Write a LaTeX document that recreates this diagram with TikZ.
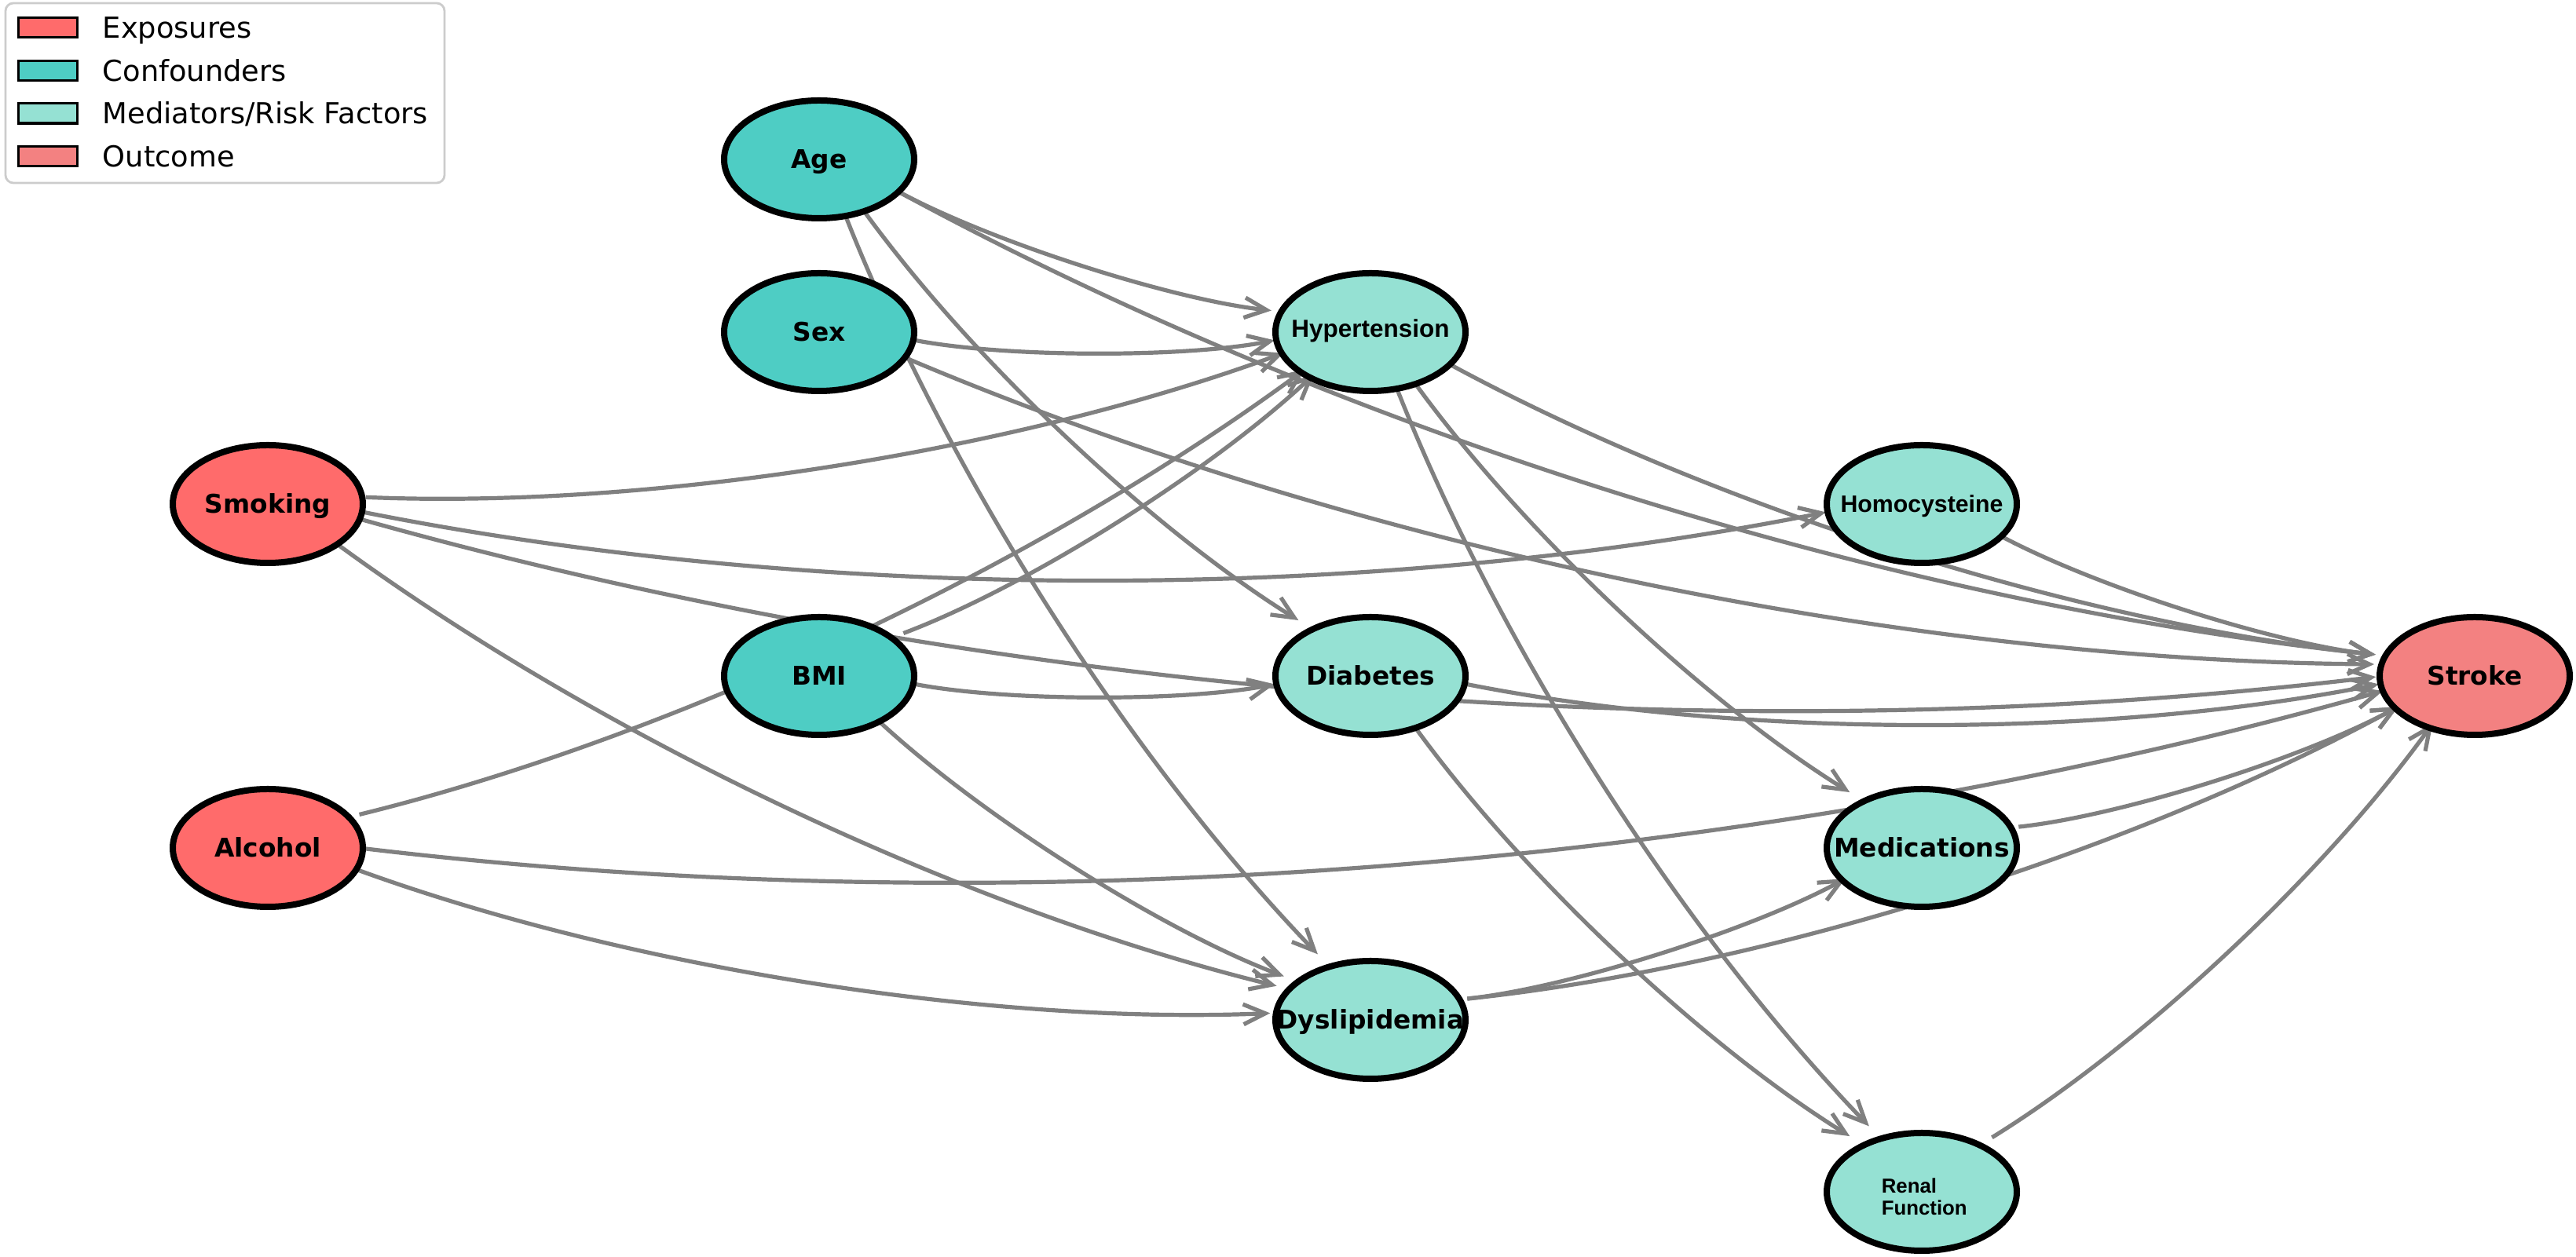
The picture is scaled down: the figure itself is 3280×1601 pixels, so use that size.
\documentclass[tikz,border=0pt]{standalone}
\usepackage{fontspec}
\setmainfont{DejaVu Sans}
\newfontfamily\libsans{Liberation Sans}
\usetikzlibrary{shapes.geometric,arrows.meta,calc}
\pgfdeclarelayer{bg}
\pgfsetlayers{bg,main}
\definecolor{expo}{HTML}{FF6B6B}
\definecolor{conf}{HTML}{4ECDC4}
\definecolor{medi}{HTML}{95E1D3}
\definecolor{outc}{HTML}{F38181}
\definecolor{edgegray}{HTML}{808080}
\definecolor{legframe}{HTML}{CCCCCC}
% curved connector: quadratic arc (rad 0.1) between the two attachment ellipses
\newcommand\dagedge[2]{%
  \path ($(#1-h)!0.5!(#2-h)!0.2!270:(#2-h)$) coordinate (ctl);
  \draw[edgeline] (#1-h) .. controls ($(#1-h)!0.6667!(ctl)$) and ($(#2-h)!0.6667!(ctl)$) .. (#2-h);
}
\begin{document}
\begin{tikzpicture}[x=0.25pt,y=0.25pt,
  var/.style={ellipse, draw=black, line width=2pt, minimum width=60.5pt,
    minimum height=37.5pt, inner sep=0pt,
    font=\bfseries\fontsize{8.2pt}{9.8pt}\selectfont,
    text height=5.98pt, text depth=0pt},
  hub/.style={ellipse, minimum width=60.5pt, minimum height=37.5pt,
    inner sep=0pt, outer sep=1pt},
  expn/.style={var, fill=expo},
  confn/.style={var, fill=conf},
  medn/.style={var, fill=medi},
  outn/.style={var, fill=outc},
  renaltxt/.style={font=\libsans\bfseries\fontsize{6.45pt}{7.5pt}\selectfont,
    inner sep=0pt, anchor=base west},
  edgeline/.style={draw=edgegray, line width=1.3pt,
    -{Straight Barb[length=7pt, width=6.4pt]}, shorten >=0.75pt},
  legpatch/.style={draw=black, line width=0.8pt, minimum width=18.7pt,
    minimum height=6.3pt, inner sep=0pt, outer sep=0pt},
  legtext/.style={font=\fontsize{9.2pt}{11pt}\selectfont, inner sep=0pt,
    anchor=base west}
]
\useasboundingbox (0,0) rectangle (3280,-1601);
\begin{pgfonlayer}{bg}
  \fill[white] (0,0) rectangle (3280,-1601);
\end{pgfonlayer}

% nodes
\node[confn] (age) at (1043,-203) {\makebox[0pt]{Age}};
\node[confn] (sex) at (1043,-423) {\makebox[0pt]{Sex}};
\node[expn] (smoking) at (341,-642) {\makebox[0pt]{Smoking}};
\node[confn] (bmi) at (1043,-861) {\makebox[0pt]{BMI}};
\node[expn] (alcohol) at (341,-1080) {\makebox[0pt]{Alcohol}};
\node[medn, font=\libsans\bfseries\fontsize{7.87pt}{9.4pt}\selectfont,
  text height=5.63pt, text depth=2.5pt] (hyp) at (1745,-423) {\makebox[0pt]{Hypertension}};
\node[medn] (diab) at (1745,-861) {\makebox[0pt]{Diabetes}};
\node[medn] (dysl) at (1745,-1299) {\makebox[0pt]{Dyslipidemia}};
\node[medn, font=\libsans\bfseries\fontsize{7.57pt}{9pt}\selectfont,
  text height=5.42pt, text depth=0pt] (homo) at (2447,-642) {\makebox[0pt]{Homocysteine}};
\node[medn] (meds) at (2447,-1080) {\makebox[0pt]{Medications}};
\node[medn] (renal) at (2447,-1518) {};
\node[renaltxt] (renal1) at (2395,-1520) {Renal};
\node[renaltxt] (renal2) at (2395,-1548) {Function};
\node[outn] (stroke) at (3151,-861) {\makebox[0pt]{Stroke}};

% invisible attachment ellipses (edges attach slightly above each drawn ellipse)
\foreach \n in {age,sex,smoking,bmi,alcohol,hyp,diab,dysl,homo,meds,renal,stroke}
  \node[hub] (\n-h) at ($(\n)+(0,14)$) {};

% edges
\begin{pgfonlayer}{bg}
\dagedge{age}{hyp}
\dagedge{age}{diab}
\dagedge{age}{dysl}
\dagedge{age}{stroke}
\dagedge{sex}{hyp}
\dagedge{sex}{stroke}
\dagedge{smoking}{hyp}
\dagedge{smoking}{homo}
\dagedge{smoking}{stroke}
\dagedge{smoking}{dysl}
\dagedge{alcohol}{hyp}
\dagedge{alcohol}{stroke}
\dagedge{alcohol}{dysl}
\dagedge{bmi}{hyp}
\dagedge{bmi}{diab}
\dagedge{bmi}{dysl}
\dagedge{hyp}{stroke}
\dagedge{hyp}{meds}
\dagedge{hyp}{renal}
\dagedge{diab}{stroke}
\dagedge{diab}{renal}
\dagedge{dysl}{meds}
\dagedge{dysl}{stroke}
\dagedge{homo}{stroke}
\dagedge{meds}{stroke}
\dagedge{renal}{stroke}
\end{pgfonlayer}

% legend
\node[draw=legframe, line width=0.7pt, rounded corners=2.5pt, fill=white,
  minimum width=139.75pt, minimum height=57.25pt, inner sep=0pt, outer sep=0pt,
  anchor=north west] (legendbox) at (7,-4) {};
\node[legpatch, fill=expo] (lp1) at (61,-35) {};
\node[legpatch, fill=conf] (lp2) at (61,-90) {};
\node[legpatch, fill=medi] (lp3) at (61,-144.5) {};
\node[legpatch, fill=outc] (lp4) at (61,-199) {};
\node[legtext] (lt1) at (130,-48.4) {Exposures};
\node[legtext] (lt2) at (130,-103.4) {Confounders};
\node[legtext] (lt3) at (130,-157.9) {Mediators/Risk Factors};
\node[legtext] (lt4) at (130,-212.4) {Outcome};
\end{tikzpicture}
\end{document}
